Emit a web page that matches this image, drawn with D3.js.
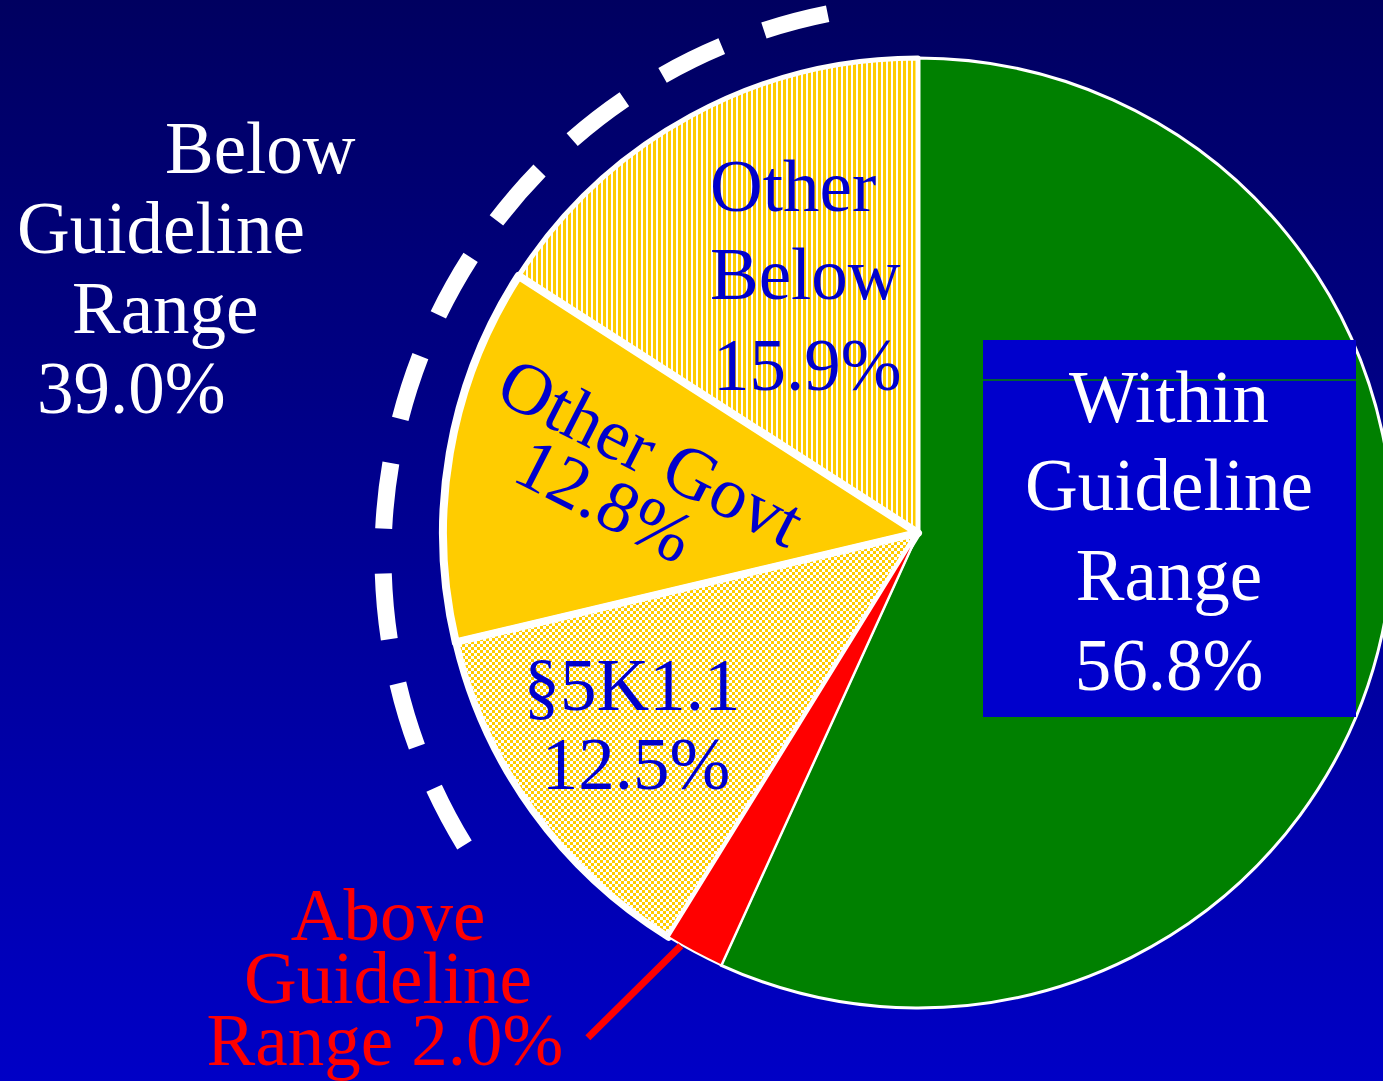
<!DOCTYPE html>
<html>
<head>
<meta charset="utf-8">
<script src="https://cdn.jsdelivr.net/npm/d3@7"></script>
<style>
body { margin: 0; background: #000066; }
svg { display: block; }
</style>
</head>
<body>
<script>
// data
var categories = ["Within Guideline Range", "Above Guideline Range", "§5K1.1", "Other Govt", "Other Below"]
var shares = [56.8, 2.0, 12.5, 12.8, 15.9]
var belowShare = 39.0
var sliceLabels = [["Within", "Guideline", "Range"], ["Above", "Guideline", "Range"], ["§5K1.1"], ["Other Govt"], ["Other", "Below"]]
var belowLabel = ["Below", "Guideline", "Range"]

var width = 1383, height = 1081
var cx = 918, cy = 533, radius = 475
var fontFam = "'Liberation Serif', 'Times New Roman', serif"
var fs = 73
var txtBlue = "#0000cc"

function pct(v) { return v.toFixed(1) + "%" }

var svg = d3.select("body").append("svg")
    .attr("width", width)
    .attr("height", height)

var defs = svg.append("defs")
var grad = defs.append("linearGradient")
    .attr("id", "bg")
    .attr("x1", 0).attr("y1", 0).attr("x2", 0).attr("y2", 1)
grad.append("stop").attr("offset", 0).attr("stop-color", "#000060")
grad.append("stop").attr("offset", 1).attr("stop-color", "#0000c6")

// checkerboard for 5K1.1
var chk = defs.append("pattern")
    .attr("id", "checks")
    .attr("patternUnits", "userSpaceOnUse")
    .attr("width", 6).attr("height", 6)
chk.append("rect").attr("width", 6).attr("height", 6).attr("fill", "#ffcc00")
chk.append("rect").attr("width", 3).attr("height", 3).attr("fill", "white")
chk.append("rect").attr("x", 3).attr("y", 3).attr("width", 3).attr("height", 3).attr("fill", "white")

// vertical stripes for other below
var str = defs.append("pattern")
    .attr("id", "stripes")
    .attr("patternUnits", "userSpaceOnUse")
    .attr("width", 5).attr("height", 10)
str.append("rect").attr("width", 5).attr("height", 10).attr("fill", "white")
str.append("rect").attr("width", 3).attr("height", 10).attr("fill", "#ffcc00")

svg.append("rect")
    .attr("width", width)
    .attr("height", height)
    .attr("fill", "url(#bg)")

var fills = ["#008000", "#ff0000", "url(#checks)", "#ffcc00", "url(#stripes)"]
var strokeW = [3, 2, 7, 8, 5]
var drawOrder = [0, 4, 3, 2, 1]

var pie = d3.pie().sort(null).value(function(d) { return d })
var arcs = pie(shares)
var arcGen = d3.arc().innerRadius(0).outerRadius(radius)

var pieG = svg.append("g").attr("transform", "translate(" + cx + "," + cy + ")")
pieG.selectAll("path")
    .data(drawOrder.map(function(i) { return arcs[i] }))
    .enter()
    .append("path")
    .attr("d", arcGen)
    .attr("fill", function(d) { return fills[d.index] })
    .attr("stroke", "white")
    .attr("stroke-width", function(d) { return strokeW[d.index] })
    .attr("stroke-linejoin", "round")

// dashed bracket round the "below" slices
var bx = 936, by = 556, br = 553
var a0 = -11.3 * Math.PI / 180, a1 = -121.5 * Math.PI / 180
var bp = d3.path()
bp.arc(bx, by, br, a0 - Math.PI / 2, a1 - Math.PI / 2, true)
svg.append("path")
    .attr("d", bp.toString())
    .attr("fill", "none")
    .attr("stroke", "white")
    .attr("stroke-width", 17)
    .attr("stroke-dasharray", "66,45")

// leader line for the red slice
var red = arcs[1]
var ma = red.startAngle + 0.75 * (red.endAngle - red.startAngle)
var lx0 = cx + (radius + 1) * Math.sin(ma), ly0 = cy - (radius + 1) * Math.cos(ma)
svg.append("line")
    .attr("x1", lx0).attr("y1", ly0)
    .attr("x2", lx0 - 93).attr("y2", ly0 + 92)
    .attr("stroke", "#ff0000")
    .attr("stroke-width", 7)

function addLines(g, lines, xs, ys, anchor, color) {
    g.selectAll(null)
        .data(lines)
        .enter()
        .append("text")
        .attr("x", function(d, i) { return xs[i] })
        .attr("y", function(d, i) { return ys[i] })
        .attr("text-anchor", anchor)
        .attr("font-family", fontFam)
        .attr("font-size", fs)
        .attr("fill", color)
        .text(function(d) { return d })
}

// within box
svg.append("rect")
    .attr("x", 983).attr("y", 340)
    .attr("width", 373).attr("height", 377)
    .attr("fill", "#0000cc")
svg.append("line")
    .attr("x1", 983).attr("x2", 1356)
    .attr("y1", 380).attr("y2", 380)
    .attr("stroke", "#008000")
    .attr("stroke-width", 1.5)
addLines(svg, sliceLabels[0].concat([pct(shares[0])]),
    [1169, 1169, 1169, 1169], [422, 510, 600, 690], "middle", "white")

// below guideline total
addLines(svg, belowLabel.concat([pct(belowShare)]),
    [165, 17, 72, 37], [173, 253, 333, 413], "start", "white")

// other below
addLines(svg, sliceLabels[4].concat([pct(shares[4])]),
    [710, 710, 713], [211, 299, 390], "start", txtBlue)

// 5K1.1
addLines(svg, sliceLabels[2].concat([pct(shares[2])]),
    [632, 636], [710, 789], "middle", txtBlue)

// other govt, tilted
var govt = [sliceLabels[3][0], pct(shares[3])]
var govtPos = [[640, 474], [594, 522]]
svg.selectAll(null)
    .data(govt)
    .enter()
    .append("text")
    .attr("transform", function(d, i) { return "translate(" + govtPos[i][0] + "," + govtPos[i][1] + ") rotate(27)" })
    .attr("text-anchor", "middle")
    .attr("font-family", fontFam)
    .attr("font-size", fs)
    .attr("fill", txtBlue)
    .text(function(d) { return d })

// above guideline
var aboveLines = [sliceLabels[1][0], sliceLabels[1][1], sliceLabels[1][2] + " " + pct(shares[1])]
addLines(svg, aboveLines, [388, 388, 385], [940, 1003, 1065], "middle", "#ff0000")
</script>
</body>
</html>
